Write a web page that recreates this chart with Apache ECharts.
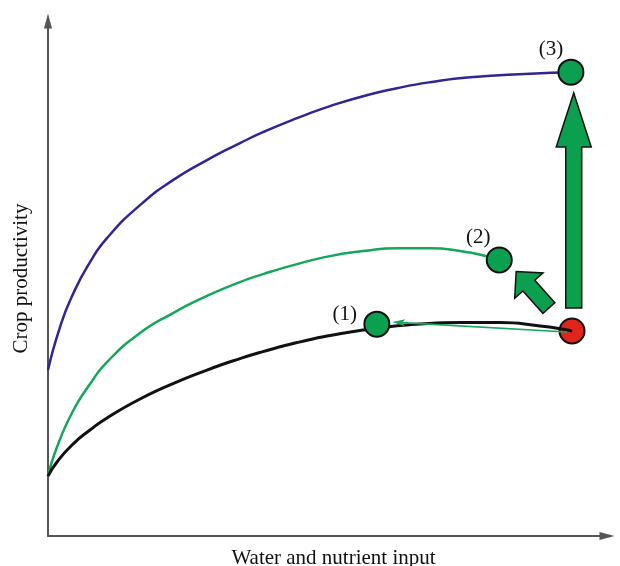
<!DOCTYPE html>
<html>
<head>
<meta charset="utf-8">
<script src="https://cdn.jsdelivr.net/npm/echarts@6/dist/echarts.min.js"></script>
<style>html,body{margin:0;padding:0;background:#fff;}#c{width:620px;height:566px;}</style>
</head>
<body>
<div id="c"></div>
<script>
// Curves (x, y in chart units)
const blueX  = [0, 2.13, 4.43, 7.45, 10.46, 16.31, 22.16, 28.19, 34.04, 38.12, 44.15, 50.0, 55.85, 61.88, 67.73, 74.82, 85.46, 92.73];
const blueY  = [31.80, 40.04, 46.36, 52.49, 57.09, 63.41, 68.20, 72.03, 75.29, 77.39, 80.08, 82.38, 84.29, 85.82, 86.97, 87.93, 88.60, 88.89];
const greenX = [0, 1.60, 4.43, 7.45, 10.46, 16.31, 22.16, 26.95, 34.04, 38.12, 44.15, 50.0, 55.85, 61.88, 67.73, 73.05, 78.01, 79.96];
const greenY = [11.49, 17.05, 23.95, 29.12, 33.33, 38.89, 42.72, 45.40, 48.66, 50.19, 52.11, 53.64, 54.60, 55.17, 55.17, 54.60, 53.54, 52.87];
const blackX = [0, 1.60, 4.43, 7.45, 10.46, 16.31, 22.16, 28.19, 34.04, 38.12, 44.15, 50.0, 55.85, 58.33, 65.96, 73.05, 80.14, 87.23, 91.67, 92.91];
const blackY = [11.49, 14.18, 17.62, 20.31, 22.61, 26.25, 29.21, 31.80, 34.00, 35.34, 37.07, 38.41, 39.46, 39.85, 40.61, 40.90, 40.90, 40.23, 39.56, 39.27];

// Scenario points
const pointLabels = ['(1)', '(2)', '(3)'];
const pointX = [58.3, 80.0, 92.7];
const pointY = [40.6, 52.9, 88.9];
const presentX = [92.9];
const presentY = [39.3];

// Arrows: [fromX, fromY, toX, toY]
const bigArrow   = [93.2, 43.7, 93.2, 84.9];
const diagArrow  = [88.8, 43.7, 83.0, 50.7];
const thinArrow  = [92.0, 39.1, 61.0, 41.0];

// Text
const curveLabel = 'At present';
const curveLabelX = 33.7, curveLabelY = 28.0;
const xName = 'Water and nutrient input';
const yName = 'Crop productivity';

const zip = (a, b) => a.map((v, i) => [v, b[i]]);
const FONT = 'Liberation Serif';
const FILL_GREEN = '#0b9f50';

function blockArrow(sw, hw, hl) {
  return function (params, api) {
    const p0 = api.coord([api.value(0), api.value(1)]);
    const p1 = api.coord([api.value(2), api.value(3)]);
    const dx = p1[0] - p0[0], dy = p1[1] - p0[1];
    const len = Math.sqrt(dx * dx + dy * dy);
    const ux = dx / len, uy = dy / len;
    const nx = -uy, ny = ux;
    const bx = p1[0] - ux * hl, by = p1[1] - uy * hl;
    const pts = [
      [p0[0] + nx * sw / 2, p0[1] + ny * sw / 2],
      [bx + nx * sw / 2, by + ny * sw / 2],
      [bx + nx * hw / 2, by + ny * hw / 2],
      [p1[0], p1[1]],
      [bx - nx * hw / 2, by - ny * hw / 2],
      [bx - nx * sw / 2, by - ny * sw / 2],
      [p0[0] - nx * sw / 2, p0[1] - ny * sw / 2]
    ];
    return {
      type: 'polygon',
      shape: { points: pts },
      style: { fill: FILL_GREEN, stroke: '#111', lineWidth: 1.5, lineJoin: 'miter' }
    };
  };
}

function lineArrow(params, api) {
  const p0 = api.coord([api.value(0), api.value(1)]);
  const p1 = api.coord([api.value(2), api.value(3)]);
  const dx = p1[0] - p0[0], dy = p1[1] - p0[1];
  const len = Math.sqrt(dx * dx + dy * dy);
  const ux = dx / len, uy = dy / len;
  const nx = -uy, ny = ux;
  const hl = 13, hw = 7;
  const bx = p1[0] - ux * hl, by = p1[1] - uy * hl;
  const nbx = p1[0] - ux * (hl - 3), nby = p1[1] - uy * (hl - 3);
  return {
    type: 'group',
    children: [
      { type: 'line', shape: { x1: p0[0], y1: p0[1], x2: nbx, y2: nby }, style: { stroke: '#15a85a', lineWidth: 1.6 } },
      { type: 'polygon', shape: { points: [[p1[0], p1[1]], [bx + nx * hw / 2, by + ny * hw / 2], [nbx, nby], [bx - nx * hw / 2, by - ny * hw / 2]] }, style: { fill: '#15a85a' } }
    ]
  };
}

const chart = echarts.init(document.getElementById('c'));
chart.setOption({
  backgroundColor: '#fff',
  animation: false,
  grid: { left: 48, right: 13, top: 21, bottom: 30, outerBoundsMode: 'none', containLabel: false },
  xAxis: {
    type: 'value', min: 0, max: 99.1,
    name: xName, nameLocation: 'middle', nameGap: 12,
    nameTextStyle: { fontFamily: FONT, fontSize: 21, color: '#111', padding: [0, 0, 0, 12] },
    axisLine: { lineStyle: { color: '#555', width: 2 }, symbol: ['none', 'triangle'], symbolSize: [8, 15] },
    axisTick: { show: false }, axisLabel: { show: false }, splitLine: { show: false }
  },
  yAxis: {
    type: 'value', min: 0, max: 98.7,
    name: yName, nameLocation: 'middle', nameGap: 16, nameRotate: 90,
    nameTextStyle: { fontFamily: FONT, fontSize: 21, color: '#111' },
    axisLine: { lineStyle: { color: '#555', width: 2 }, symbol: ['none', 'triangle'], symbolSize: [8, 15] },
    axisTick: { show: false }, axisLabel: { show: false }, splitLine: { show: false }
  },
  series: [
    { type: 'line', z: 2, data: zip(blueX, blueY), smooth: 0.55, symbol: 'none',
      lineStyle: { color: '#2f2595', width: 2.5 } },
    { type: 'line', z: 2, data: zip(greenX, greenY), smooth: 0.55, symbol: 'none',
      lineStyle: { color: '#14a75a', width: 2.5 } },
    { type: 'scatter', z: 3, data: zip(presentX, presentY), symbolSize: 25,
      itemStyle: { color: '#e0261c', borderColor: '#111', borderWidth: 2, opacity: 1 } },
    { type: 'line', z: 4, data: zip(blackX, blackY), smooth: 0.55, symbol: 'none',
      lineStyle: { color: '#111', width: 3 } },
    { type: 'custom', z: 5, renderItem: lineArrow, data: [thinArrow], encode: { x: [0, 2], y: [1, 3] } },
    { type: 'scatter', z: 6, symbolSize: 25,
      data: pointLabels.map((l, i) => ({ value: [pointX[i], pointY[i]], name: l })),
      itemStyle: { color: FILL_GREEN, borderColor: '#111', borderWidth: 2, opacity: 1 },
      label: {
        show: true, formatter: p => p.name, position: 'inside',
        fontFamily: FONT, fontSize: 21, color: '#111'
      },
      labelLayout: function (p) {
        const offs = [[-32, -10], [-21, -22], [-20, -23]];
        const o = offs[p.dataIndex];
        return { x: p.rect.x + p.rect.width / 2 + o[0], y: p.rect.y + p.rect.height / 2 + o[1], align: 'center', verticalAlign: 'middle' };
      }
    },
    { type: 'custom', z: 6, renderItem: blockArrow(16, 35, 54), data: [bigArrow], encode: { x: [0, 2], y: [1, 3] } },
    { type: 'custom', z: 6, renderItem: blockArrow(16, 38, 19), data: [diagArrow], encode: { x: [0, 2], y: [1, 3] } },
    { type: 'scatter', z: 7, symbolSize: 1, itemStyle: { opacity: 0 },
      data: [{ value: [curveLabelX, curveLabelY], name: curveLabel }],
      label: { show: true, formatter: p => p.name, position: 'inside', fontFamily: FONT, fontSize: 21, color: '#111' } }
  ]
});
</script>
</body>
</html>
